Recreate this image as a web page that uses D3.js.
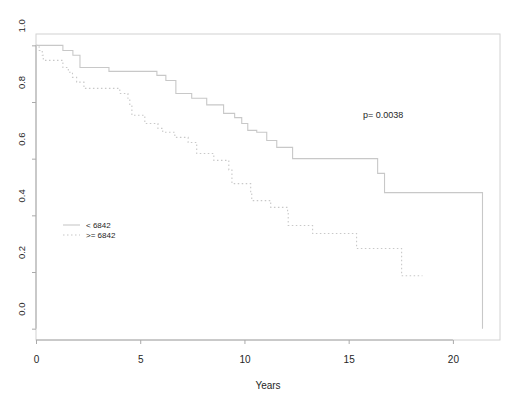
<!DOCTYPE html>
<html>
<head>
<meta charset="utf-8">
<script src="https://cdn.jsdelivr.net/npm/d3@7"></script>
<style>
  body { margin: 0; background: #fff; }
  svg { display: block; font-family: "Liberation Sans", Arial, sans-serif; }
</style>
</head>
<body>
<div id="chart"></div>
<script>
const WIDTH = 520;
const HEIGHT = 397;

// group "< 6842" (solid)
const lowTimes = [0, 1.29, 1.77, 2.11, 3.50, 5.80, 6.23, 6.71, 7.47, 8.19, 9.0, 9.53, 9.87, 10.16, 10.59, 11.07, 11.55, 12.31, 16.39, 16.72, 21.42];
const lowSurv  = [1, 0.982, 0.965, 0.922, 0.908, 0.894, 0.876, 0.830, 0.813, 0.79, 0.76, 0.745, 0.724, 0.70, 0.693, 0.664, 0.64, 0.60, 0.548, 0.48, 0];

// group ">= 6842" (dotted)
const highTimes = [0, 0.15, 0.3, 0.35, 1.29, 1.55, 1.75, 1.95, 2.3, 4.02, 4.41, 4.5, 4.6, 5.22, 5.85, 6.08, 6.66, 7.3, 7.71, 8.53, 9.25, 9.4, 10.3, 10.35, 11.26, 12.07, 12.1, 13.27, 15.38, 17.54, 18.54];
const highSurv  = [1, 0.982, 0.965, 0.947, 0.922, 0.905, 0.887, 0.87, 0.848, 0.83, 0.813, 0.788, 0.753, 0.724, 0.707, 0.693, 0.675, 0.657, 0.618, 0.594, 0.56, 0.512, 0.48, 0.452, 0.428, 0.406, 0.364, 0.336, 0.283, 0.187, 0.187];

const xTicks = [0, 5, 10, 15, 20];
const yTicks = [0, 0.2, 0.4, 0.6, 0.8, 1.0];
const legendLabels = ["< 6842", ">= 6842"];
const pText = "p= 0.0038";

const LINE_COLOR = "#c8c8c8";
const BOX_COLOR = "#d2d2d2";
const AXIS_COLOR = "#aaaaaa";
const TEXT_COLOR = "#262626";

const svg = d3.select("#chart").append("svg")
    .attr("width", WIDTH)
    .attr("height", HEIGHT);

const x = d3.scaleLinear().domain([0, 22.26]).range([36, 500]);
const y = d3.scaleLinear().domain([-0.04, 1.04]).range([340, 34]);

// plot box
svg.append("rect")
    .attr("x", x.range()[0]).attr("y", y.range()[1])
    .attr("width", x.range()[1] - x.range()[0])
    .attr("height", y.range()[0] - y.range()[1])
    .attr("fill", "none")
    .attr("stroke", BOX_COLOR);

// x axis
const gx = svg.append("g")
    .attr("transform", `translate(0,${y.range()[0]})`)
    .call(d3.axisBottom(x).tickValues(xTicks).tickSize(4).tickPadding(12));
gx.select(".domain").remove();
gx.selectAll("line").attr("stroke", AXIS_COLOR);
gx.selectAll("text").attr("fill", TEXT_COLOR).style("font-size", "10px");
gx.append("line")
    .attr("x1", x(0)).attr("x2", x(20))
    .attr("stroke", AXIS_COLOR);

// y axis (labels sit a bit above their ticks, as in the picture)
const gy = svg.append("g")
    .attr("transform", `translate(${x.range()[0]},0)`)
    .call(d3.axisLeft(y).tickValues(yTicks).tickSize(4).tickFormat(d3.format(".1f")));
gy.select(".domain").remove();
gy.selectAll("line").attr("stroke", AXIS_COLOR);
gy.selectAll("text")
    .attr("x", 0).attr("dy", null)
    .attr("text-anchor", "middle")
    .attr("transform", "translate(-11,-20) rotate(-90)")
    .attr("fill", TEXT_COLOR)
    .style("font-size", "9.5px");
gy.append("line")
    .attr("y1", y(0)).attr("y2", y(1))
    .attr("stroke", AXIS_COLOR);

// x title
svg.append("text")
    .attr("x", (x.range()[0] + x.range()[1]) / 2)
    .attr("y", 389)
    .attr("text-anchor", "middle")
    .attr("fill", TEXT_COLOR)
    .style("font-size", "10px")
    .text("Years");

const step = d3.line()
    .x(d => x(d[0]))
    .y(d => y(d[1]))
    .curve(d3.curveStepAfter);

svg.append("path")
    .datum(d3.zip(lowTimes, lowSurv))
    .attr("fill", "none")
    .attr("stroke", LINE_COLOR)
    .attr("stroke-width", 1.1)
    .attr("d", step);

svg.append("path")
    .datum(d3.zip(highTimes, highSurv))
    .attr("fill", "none")
    .attr("stroke", LINE_COLOR)
    .attr("stroke-width", 1.1)
    .attr("stroke-dasharray", "1.5,2.5")
    .attr("d", step);

// p value
svg.append("text")
    .attr("x", 363).attr("y", 118)
    .attr("fill", TEXT_COLOR)
    .style("font-size", "9px")
    .text(pText);

// legend
const legend = svg.append("g").attr("transform", "translate(63,225)");
legendLabels.forEach((lab, i) => {
    legend.append("line")
        .attr("x1", 0).attr("x2", 17)
        .attr("y1", i * 10).attr("y2", i * 10)
        .attr("stroke", LINE_COLOR)
        .attr("stroke-width", 1.1)
        .attr("stroke-dasharray", i === 1 ? "1.5,2.5" : null);
    legend.append("text")
        .attr("x", 23).attr("y", i * 10 + 3)
        .attr("fill", TEXT_COLOR)
        .style("font-size", "8px")
        .text(lab);
});
</script>
</body>
</html>
